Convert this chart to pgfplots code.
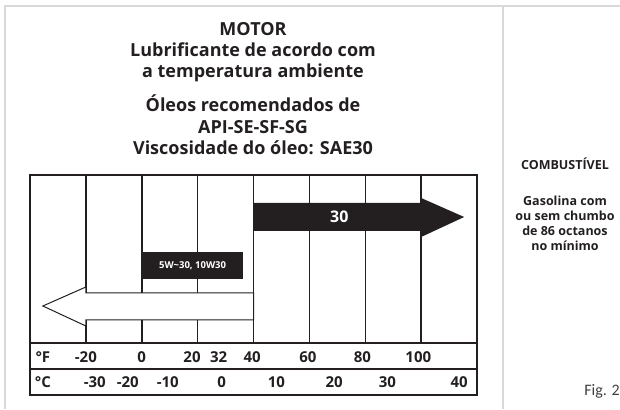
\documentclass[border=0pt]{standalone}
\usepackage{pgfplots}
\pgfplotsset{compat=1.18}
\usepackage{fontspec}
\setmainfont{Open Sans}
\newfontfamily\figfont{Carlito}
\definecolor{ink}{HTML}{231F20}
\begin{document}
\begin{tikzpicture}[x=1pt,y=1pt]
\useasboundingbox (0pt,0pt) rectangle (620pt,409pt);
\draw[black!15, line width=1.5pt] (5pt,0pt) -- (5pt,403pt) -- (620pt,403pt);
\draw[black!15, line width=1.5pt] (503pt,0pt) -- (503pt,403pt);
% titles
\begin{scope}[every node/.style={font=\bfseries\fontsize{18}{20}\selectfont, anchor=base, text=ink, inner sep=0pt}]
\node at (253pt,373pt) {MOTOR};
\node at (253pt,352pt) {Lubrificante de acordo com};
\node at (253pt,331pt) {a temperatura ambiente};
\node at (253pt,297pt) {Óleos recomendados de};
\node at (253pt,275pt) {API-SE-SF-SG};
\node at (253pt,254pt) {Viscosidade do óleo: SAE30};
\end{scope}
% right panel
\begin{scope}[every node/.style={font=\bfseries\fontsize{12.5}{13}\selectfont, anchor=base, text=ink, inner sep=0pt}]
\node at (565pt,239pt) {COMBUSTÍVEL};
\node at (565pt,203pt) {Gasolina com};
\node at (565pt,188pt) {ou sem chumbo};
\node at (565pt,173pt) {de 86 octanos};
\node at (565pt,158pt) {no mínimo};
\end{scope}
\node[font=\figfont\fontsize{16}{17}\selectfont, anchor=base east, text=black!75, inner sep=0pt] at (620pt,13pt) {Fig. 2};
\begin{axis}[at={(30pt,14pt)}, anchor=south west, scale only axis,
  width=447pt, height=220pt,
  xmin=-40, xmax=120, ymin=0, ymax=220,
  ticks=none, clip=false,
  axis line style={line width=1.5pt, ink}]
% vertical grid lines (deg F)
\addplot[line width=1.5pt, ink] coordinates {(-20,52) (-20,220)};
\addplot[line width=1.5pt, ink] coordinates {(0,52) (0,220)};
\addplot[line width=1.5pt, ink] coordinates {(20,52) (20,220)};
\addplot[line width=1.5pt, ink] coordinates {(40,52) (40,220)};
\addplot[line width=1.5pt, ink] coordinates {(60,52) (60,220)};
\addplot[line width=1.5pt, ink] coordinates {(80,52) (80,220)};
\addplot[line width=1.5pt, ink] coordinates {(100,52) (100,220)};
% row separators
\addplot[line width=1.5pt, ink] coordinates {(-40,52) (120,52)};
\addplot[line width=1.5pt, ink] coordinates {(-40,26) (120,26)};
% SAE 30 arrow
\addplot[fill=ink, draw=none] coordinates {(40,192) (100,192) (100,197) (115.4,178) (100,158) (100,164) (40,164)} -- cycle;
% multigrade arrow
\addplot[fill=white, draw=ink, line width=1pt] coordinates {(40,102) (-20,102) (-20,108) (-35.4,89) (-20,69) (-20,75) (40,75)} -- cycle;
% label box
\addplot[fill=ink, draw=none] coordinates {(0,116) (36.4,116) (36.4,143) (0,143)} -- cycle;
\node[font=\bfseries\fontsize{9.5}{10}\selectfont, text=white, inner sep=0pt] at (axis cs:18.2,129.5) {5W\textasciitilde30, 10W30};
\node[font=\bfseries\fontsize{16}{18}\selectfont, text=white, inner sep=0pt] at (axis cs:70.7,178) {30};
% scale labels
\begin{scope}[every node/.style={font=\bfseries\fontsize{15}{16}\selectfont, anchor=base, text=ink, inner sep=0pt}]
\node at (axis cs:-35.4,32) {°F};
\node at (axis cs:-20,32) {-20};
\node at (axis cs:0,32) {0};
\node at (axis cs:18,32) {20};
\node at (axis cs:27.5,32) {32};
\node at (axis cs:39.5,32) {40};
\node at (axis cs:59.5,32) {60};
\node at (axis cs:79,32) {80};
\node at (axis cs:99,32) {100};
\node at (axis cs:-35.4,8) {°C};
\node at (axis cs:-16.8,8) {-30};
\node at (axis cs:-5,8) {-20};
\node at (axis cs:9.3,8) {-10};
\node at (axis cs:28.6,8) {0};
\node at (axis cs:48.2,8) {10};
\node at (axis cs:68.9,8) {20};
\node at (axis cs:87.9,8) {30};
\node at (axis cs:113.6,8) {40};
\end{scope}
\end{axis}
\end{tikzpicture}
\end{document}
